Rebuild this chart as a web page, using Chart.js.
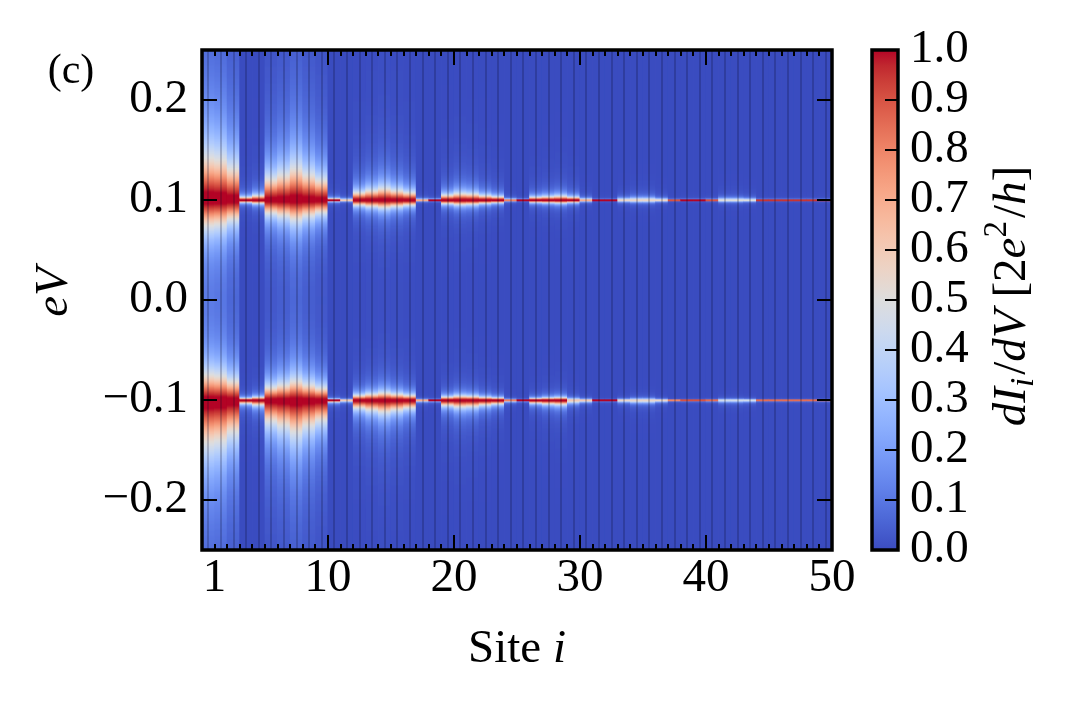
<!DOCTYPE html>
<html>
<head>
<meta charset="utf-8">
<script src="https://cdn.jsdelivr.net/npm/chart.js@4.4.1/dist/chart.umd.min.js"></script>
<style>
  html, body { margin: 0; padding: 0; background: #fff; }
  canvas { display: block; }
</style>
</head>
<body>
<canvas id="chart" width="1071" height="701"></canvas>
<script>
// sites along the chain (one heatmap column each)
const sites = [1, 2, 3, 4, 5, 6, 7, 8, 9, 10, 11, 12, 13, 14, 15, 16, 17, 18, 19, 20,
  21, 22, 23, 24, 25, 26, 27, 28, 29, 30, 31, 32, 33, 34, 35, 36, 37, 38, 39, 40,
  41, 42, 43, 44, 45, 46, 47, 48, 49, 50];

// peak positions in eV
const peakEnergies = [0.1, -0.1];

// peak half-width (eV) per site, for the +0.1 and -0.1 peaks
const widthPos = [0.040, 0.038, 0.030, 0.0025, 0.004, 0.020, 0.024, 0.030, 0.024, 0.019,
  0.0012, 0.0010, 0.007, 0.009, 0.011, 0.009, 0.007, 0.0008, 0.0005, 0.0045,
  0.006, 0.0055, 0.004, 0.003, 0.0008, 0.0004, 0.0025, 0.003, 0.0035, 0.0025,
  0.0012, 0.0003, 0.0003, 0.0015, 0.002, 0.002, 0.0012, 0.0003, 0.0003, 0.0003,
  0.0004, 0.0015, 0.0015, 0.0012, 0.0003, 0.0003, 0.0003, 0.0003, 0.0003, 0.0003];
const widthNeg = [0.040, 0.038, 0.030, 0.0025, 0.004, 0.020, 0.024, 0.030, 0.024, 0.019,
  0.0012, 0.0010, 0.007, 0.009, 0.011, 0.009, 0.007, 0.0008, 0.0005, 0.0045,
  0.006, 0.0055, 0.004, 0.003, 0.0008, 0.0004, 0.0022, 0.003, 0.0035, 0.0022,
  0.0012, 0.0003, 0.0003, 0.0012, 0.0018, 0.0018, 0.0010, 0.0003, 0.0003, 0.0003,
  0.0004, 0.0012, 0.0012, 0.0010, 0.0003, 0.0003, 0.0003, 0.0003, 0.0003, 0.0003];

// peak height (units of 2e^2/h) per site as it shows on the pixel grid
const heightPos = [1, 1, 1, 1, 1, 1, 1, 1, 1, 1,
  1, 0.6, 1, 1, 1, 1, 1, 0.7, 1, 1,
  1, 1, 1, 1, 0.8, 1, 1, 1, 1, 1,
  0.7, 1, 1, 0.55, 0.55, 0.55, 0.55, 0.9, 1, 1,
  0.9, 0.5, 0.5, 0.5, 0.95, 0.95, 0.95, 0.95, 0.95, 0.95];
const heightNeg = [1, 1, 1, 1, 1, 1, 1, 1, 1, 1,
  1, 0.6, 1, 1, 1, 1, 1, 0.7, 1, 1,
  1, 1, 1, 1, 0.8, 1, 1, 1, 1, 0.6,
  0.6, 1, 1, 0.55, 0.55, 0.55, 0.55, 0.8, 0.9, 0.9,
  0.85, 0.45, 0.45, 0.45, 0.85, 0.85, 0.85, 0.85, 0.85, 0.85];

// tails fall off faster towards zero bias than away from it
const innerWidthRatio = 0.6;

const energyMin = -0.25, energyMax = 0.25, energyStep = 0.001;
const yTicks = [-0.2, -0.1, 0.0, 0.1, 0.2];
const xLabelTicks = [1, 10, 20, 30, 40, 50];
const xMajorTicks = [10, 20, 30, 40, 50];
const cbarTicks = [0.0, 0.1, 0.2, 0.3, 0.4, 0.5, 0.6, 0.7, 0.8, 0.9, 1.0];

// matplotlib "coolwarm" (Moreland diverging map)
const coolwarm = [
  [59, 76, 192], [68, 90, 204], [77, 104, 215], [87, 117, 225], [98, 130, 234],
  [108, 142, 241], [119, 154, 247], [130, 165, 251], [141, 176, 254], [152, 185, 255],
  [163, 194, 255], [174, 201, 253], [184, 208, 249], [194, 213, 244], [204, 217, 238],
  [213, 219, 230], [221, 221, 221], [229, 216, 209], [236, 211, 197], [241, 204, 185],
  [245, 196, 173], [247, 187, 160], [247, 177, 148], [247, 166, 135], [244, 154, 123],
  [241, 141, 111], [236, 127, 99], [229, 112, 88], [222, 96, 77], [213, 80, 66],
  [203, 62, 56], [192, 40, 47], [180, 4, 38]
];
function cmap(v) {
  v = Math.max(0, Math.min(1, v));
  const p = v * (coolwarm.length - 1);
  const i = Math.min(Math.floor(p), coolwarm.length - 2);
  const f = p - i;
  const a = coolwarm[i], b = coolwarm[i + 1];
  return 'rgb(' + [0, 1, 2].map(k => Math.round(a[k] + (b[k] - a[k]) * f)).join(',') + ')';
}

// conductance of one energy bin [lo, hi] at column k
function binValue(k, lo, hi) {
  let v = 0;
  peakEnergies.forEach((e0, j) => {
    const w = j === 0 ? widthPos[k] : widthNeg[k];
    const h = j === 0 ? heightPos[k] : heightNeg[k];
    const dist = Math.max(0, lo - e0, e0 - hi);
    const mid = (lo + hi) / 2;
    const outward = Math.abs(mid) >= Math.abs(e0);
    const g = outward ? w : w * innerWidthRatio;
    v += h / (1 + (dist / g) * (dist / g));
  });
  return Math.min(1, v);
}

const cells = [];
const cellColors = [];
const nBins = Math.round((energyMax - energyMin) / energyStep);
sites.forEach((s, k) => {
  for (let b = 0; b < nBins; b++) {
    const lo = energyMin + b * energyStep;
    const hi = lo + energyStep;
    cells.push({ x: s - 0.5, y: [lo, hi] });
    cellColors.push(cmap(binValue(k, lo, hi)));
  }
});

const FONT = '"Liberation Serif", "DejaVu Serif", serif';
const TICK_SIZE = 47;
const fmt = v => (v < 0 ? '\u2212' : '') + Math.abs(v).toFixed(1);

function drawParts(ctx, parts, cx, cy, rot) {
  ctx.save();
  ctx.translate(cx, cy);
  ctx.rotate(rot);
  let total = 0;
  parts.forEach(p => {
    ctx.font = (p.it ? 'italic ' : '') + p.size + 'px ' + FONT;
    p.w = ctx.measureText(p.t).width + (p.gap || 0);
    total += p.w;
  });
  let x = -total / 2;
  ctx.fillStyle = '#000';
  ctx.textBaseline = 'alphabetic';
  ctx.textAlign = 'left';
  parts.forEach(p => {
    ctx.font = (p.it ? 'italic ' : '') + p.size + 'px ' + FONT;
    ctx.fillText(p.t, x, (p.dy || 0) + 15);
    x += p.w;
  });
  ctx.restore();
}

// axes keep their fixed boxes, no extra room for edge labels
function fixBox(size, horizontal) {
  return s => {
    if (horizontal) s.height = size; else s.width = size;
    s.paddingTop = 0; s.paddingBottom = 0; s.paddingLeft = 0; s.paddingRight = 0;
  };
}

const decorations = {
  id: 'decorations',
  afterDraw(chart) {
    const ctx = chart.ctx;
    const a = chart.chartArea;
    const xs = chart.scales.x, ys = chart.scales.y, cs = chart.scales.cbar;
    ctx.save();

    // inward tick marks
    ctx.strokeStyle = '#000';
    ctx.lineWidth = 2;
    ctx.beginPath();
    sites.forEach(s => {
      const px = Math.round(xs.getPixelForValue(s));
      const len = xMajorTicks.includes(s) ? 15 : 6;
      ctx.moveTo(px, a.bottom); ctx.lineTo(px, a.bottom - len);
      ctx.moveTo(px, a.top); ctx.lineTo(px, a.top + len);
    });
    yTicks.forEach(v => {
      const py = Math.round(ys.getPixelForValue(v));
      ctx.moveTo(a.left, py); ctx.lineTo(a.left + 15, py);
      ctx.moveTo(a.right, py); ctx.lineTo(a.right - 15, py);
    });
    ctx.stroke();

    // frame
    ctx.lineWidth = 3.5;
    ctx.strokeRect(a.left, a.top, a.right - a.left, a.bottom - a.top);

    // colour bar
    const cbLeft = a.right + 40, cbWidth = 26;
    const y0 = cs.getPixelForValue(0), y1 = cs.getPixelForValue(1);
    const grad = ctx.createLinearGradient(0, y0, 0, y1);
    coolwarm.forEach((c, i) => grad.addColorStop(i / (coolwarm.length - 1), 'rgb(' + c.join(',') + ')'));
    ctx.fillStyle = grad;
    ctx.fillRect(cbLeft, y1, cbWidth, y0 - y1);
    ctx.lineWidth = 2;
    ctx.beginPath();
    cbarTicks.slice(1, -1).forEach(v => {
      const py = Math.round(cs.getPixelForValue(v));
      ctx.moveTo(cbLeft + cbWidth, py); ctx.lineTo(cbLeft + cbWidth - 13, py);
    });
    ctx.stroke();
    ctx.lineWidth = 3.5;
    ctx.strokeRect(cbLeft, y1, cbWidth, y0 - y1);

    // titles
    const midY = (a.top + a.bottom) / 2;
    drawParts(ctx, [{ t: 'Site ', size: TICK_SIZE }, { t: 'i', it: true, size: TICK_SIZE }],
      (a.left + a.right) / 2, a.bottom + 97, 0);
    drawParts(ctx, [{ t: 'eV', it: true, size: TICK_SIZE }], 52, midY - 8, -Math.PI / 2);
    drawParts(ctx, [{ t: '(c)', size: 42 }], 71, 68, 0);
    drawParts(ctx, [
      { t: 'dI', it: true, size: TICK_SIZE },
      { t: 'i', it: true, size: 33, dy: 8, gap: 3 },
      { t: '/', size: TICK_SIZE },
      { t: 'dV', it: true, size: TICK_SIZE, gap: 12 },
      { t: '[2', size: TICK_SIZE },
      { t: 'e', it: true, size: TICK_SIZE },
      { t: '2', size: 33, dy: -19, gap: 3 },
      { t: '/', size: TICK_SIZE },
      { t: 'h', it: true, size: TICK_SIZE },
      { t: ']', size: TICK_SIZE }
    ], cbLeft + cbWidth + 112, midY - 4, -Math.PI / 2);

    ctx.restore();
  }
};

new Chart(document.getElementById('chart'), {
  type: 'bar',
  data: {
    datasets: [{
      data: cells,
      backgroundColor: cellColors,
      borderWidth: 0,
      barPercentage: 1,
      categoryPercentage: 1
    }]
  },
  options: {
    responsive: false,
    devicePixelRatio: 1,
    animation: false,
    events: [],
    layout: { padding: { top: 50, left: 0, right: 0, bottom: 0 } },
    plugins: { legend: { display: false }, tooltip: { enabled: false } },
    scales: {
      x: {
        type: 'linear',
        min: 0,
        max: 50,
        offset: false,
        afterBuildTicks: s => { s.ticks = [0].concat(sites).map(v => ({ value: v })); },
        afterFit: fixBox(151, true),
        ticks: {
          autoSkip: false,
          maxRotation: 0,
          padding: 0,
          color: '#000',
          font: { family: FONT, size: TICK_SIZE },
          callback: v => (xLabelTicks.includes(v) ? String(v) : '')
        },
        grid: { color: 'rgba(10,10,40,0.22)', lineWidth: 2, drawTicks: false, z: 1 },
        border: { display: false }
      },
      y: {
        type: 'linear',
        min: energyMin,
        max: energyMax,
        afterBuildTicks: s => { s.ticks = yTicks.map(v => ({ value: v })); },
        afterFit: fixBox(202, false),
        ticks: {
          padding: 14,
          color: '#000',
          font: { family: FONT, size: TICK_SIZE },
          callback: v => fmt(v)
        },
        grid: { display: false, drawTicks: false },
        border: { display: false }
      },
      cbar: {
        type: 'linear',
        position: 'right',
        min: 0,
        max: 1,
        afterBuildTicks: s => { s.ticks = cbarTicks.map(v => ({ value: v })); },
        afterFit: fixBox(239, false),
        ticks: {
          autoSkip: false,
          padding: 78,
          color: '#000',
          font: { family: FONT, size: TICK_SIZE },
          callback: v => fmt(v)
        },
        grid: { display: false, drawTicks: false },
        border: { display: false }
      }
    }
  },
  plugins: [decorations]
});
</script>
</body>
</html>
